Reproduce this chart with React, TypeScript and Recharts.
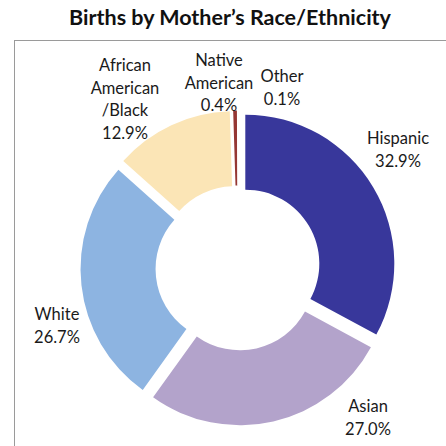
import React from 'react';
import { PieChart, Pie, Cell, Sector } from 'recharts';

const categories = ['Hispanic', 'Asian', 'White', 'African\nAmerican\n/Black', 'Native\nAmerican', 'Other'];
const shares = [32.9, 27.0, 26.7, 12.9, 0.4, 0.1];
const colors = ['#38379B', '#B3A3CB', '#8DB4E1', '#FBE5B6', '#953734', '#FFFFFF'];

const data = categories.map((name, i) => ({ name, value: shares[i] }));

// label anchor (first baseline) relative to the pie centre, by slice index
const labelOffsets = [
  [160, -124],
  [130, 144],
  [-181, 52],
  [-113, -197],
  [-19, -202],
  [44, -186],
];

const RADIAN = Math.PI / 180;
const EXPLODE = 8.5;
const FONT = 'Lato, "Open Sans", sans-serif';

const ExplodedSector = (props: any) => {
  const { cx, cy, midAngle } = props;
  const dx = Math.cos(-midAngle * RADIAN) * EXPLODE;
  const dy = Math.sin(-midAngle * RADIAN) * EXPLODE;
  return <Sector {...props} cx={cx + dx} cy={cy + dy} />;
};

const renderLabel = (props: any) => {
  const { cx, cy, index, name, value } = props;
  const [ox, oy] = labelOffsets[index];
  const lines = [...String(name).split('\n'), `${Number(value).toFixed(1)}%`];
  return (
    <text
      x={cx + ox}
      y={cy + oy}
      textAnchor="middle"
      fill="#1a1a1a"
      fontFamily={FONT}
      fontSize={16.5}
    >
      {lines.map((l, i) => (
        <tspan key={i} x={cx + ox} dy={i === 0 ? 0 : 22.5}>
          {l}
        </tspan>
      ))}
    </text>
  );
};

export default function App() {
  return (
    <div style={{ position: 'absolute', left: 0, top: 0, width: 446, height: 446, overflow: 'hidden', background: '#fff' }}>
      <div
        style={{
          position: 'absolute',
          left: 0,
          top: 4,
          width: 460,
          textAlign: 'center',
          fontFamily: FONT,
          fontWeight: 700,
          fontSize: 21.5,
          color: '#111',
        }}
      >
        Births by Mother’s Race/Ethnicity
      </div>
      <div
        style={{
          position: 'absolute',
          left: 14,
          top: 40,
          width: 460,
          height: 460,
          border: '1.5px solid #9a9a9a',
        }}
      />
      <div style={{ position: 'absolute', left: 0, top: 0 }}>
        <PieChart width={446} height={446}>
          <Pie
            data={data}
            dataKey="value"
            nameKey="name"
            cx={233}
            cy={263}
            innerRadius={74}
            outerRadius={149}
            startAngle={90}
            endAngle={-270}
            stroke="none"
            shape={ExplodedSector}
            activeShape={ExplodedSector}
            label={renderLabel}
            labelLine={false}
            isAnimationActive={false}
          >
            {data.map((d, i) => (
              <Cell key={d.name} fill={colors[i]} />
            ))}
          </Pie>
        </PieChart>
      </div>
    </div>
  );
}
